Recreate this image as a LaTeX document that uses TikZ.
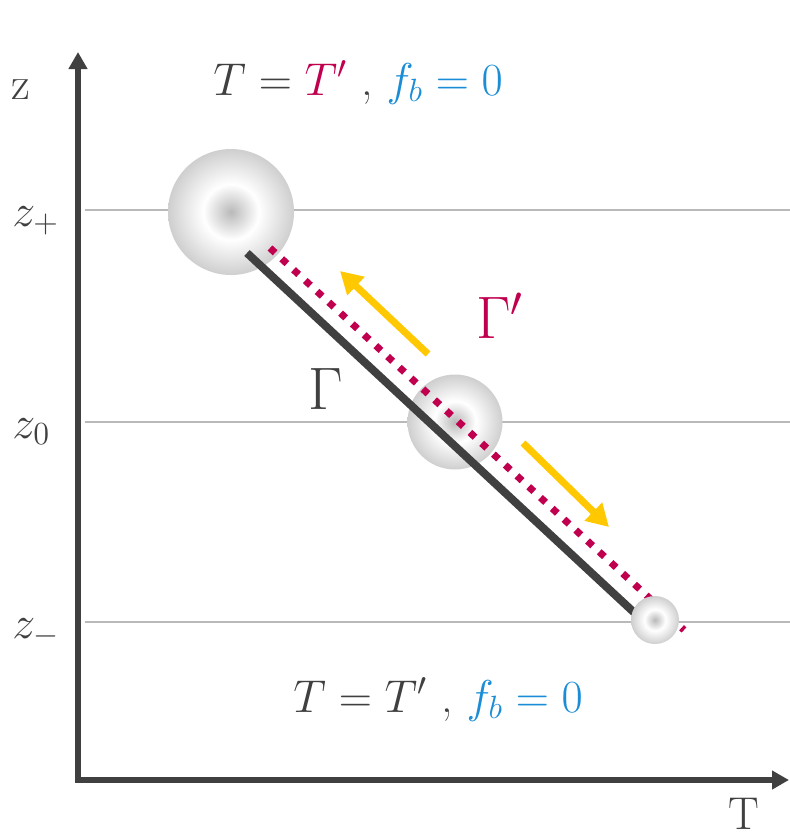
\RequirePackage{fix-cm}
\documentclass[tikz,border=0pt]{standalone}
\usepackage{xcolor}
\usetikzlibrary{arrows.meta, positioning, calc}
\definecolor{axisgray}{RGB}{64,64,64}
\definecolor{levelgray}{RGB}{185,185,185}
\definecolor{primecolor}{RGB}{192,0,78}
\definecolor{fbcolor}{RGB}{27,141,214}
\definecolor{flowcolor}{RGB}{255,200,0}
\pgfdeclareradialshading{bubble}{\pgfpoint{0bp}{0bp}}{color(0bp)=(gray!55); color(11bp)=(white); color(25bp)=(gray!38); color(50bp)=(gray!38)}

\begin{document}
\begin{tikzpicture}[
    x=0.5pt, y=-0.5pt,
    axis/.style={line width=3pt, axisgray, {Triangle[length=8.5pt,width=9pt]}-{Triangle[length=8.5pt,width=9pt]}},
    level/.style={line width=1pt, levelgray},
    wall/.style={circle, shading=bubble, inner sep=0pt},
    lbl/.style={inner sep=0pt, text=axisgray, font=\fontsize{23}{27}\selectfont},
    path/.style={line width=4pt, axisgray},
    pathprime/.style={line width=3.5pt, primecolor, dash pattern=on 3.5pt off 4.5pt},
    flow/.style={line width=3.5pt, flowcolor, -{Triangle[length=11pt,width=12pt]}}
]
\useasboundingbox (0,0) rectangle (790,836);

% axes
\coordinate (ztop) at (78,52);
\coordinate (tend) at (789,780);
\draw[axis] (ztop) |- (tend);
\node[lbl, anchor=base west] (zaxis) at (11,99) {z};
\node[lbl, anchor=base west] (taxis) at (728,829) {T};

% levels
\foreach \y/\name/\sub in {210/zp/+, 422/zz/0, 622/zm/-} {
    \draw[level] (85,\y) -- (790,\y);
    \node[lbl, anchor=base west] (\name) at (12,\y+16) {$z_{\sub}$};
}

% bubbles
\node[wall, minimum size=63pt] (big) at (231,212) {};
\node[wall, minimum size=47.5pt] (mid) at (455,422) {};

% paths
\coordinate (gstart) at (247,253);
\coordinate (gend) at (640,618);
\coordinate (pstart) at (270,248);
\coordinate (pend) at (684,630);
\draw[path] (gstart) -- (gend);
\draw[pathprime] (pstart) -- (pend);

\node[wall, minimum size=24pt] (small) at (655,620) {};

% flow arrows
\coordinate (up1) at (428,354);
\coordinate (up2) at (340,271);
\coordinate (dn1) at (523,443);
\coordinate (dn2) at (609,527);
\draw[flow] (up1) -- (up2);
\draw[flow] (dn1) -- (dn2);

\node[lbl, text=primecolor, anchor=base west, font=\fontsize{30}{34}\selectfont] (gprime) at (476,338) {$\Gamma'$};
\node[lbl, anchor=base west, font=\fontsize{30}{34}\selectfont] (gamma) at (308,409) {$\Gamma$};

% boundary conditions
\node[lbl, anchor=base west] (topbc) at (213,95) {$T = {\color{primecolor}T'}$ , {\color{fbcolor}$f_b = 0$}};
\node[lbl, anchor=base west] (botbc) at (293,712) {$T = T'$ , {\color{fbcolor}$f_b = 0$}};

\end{tikzpicture}
\end{document}
